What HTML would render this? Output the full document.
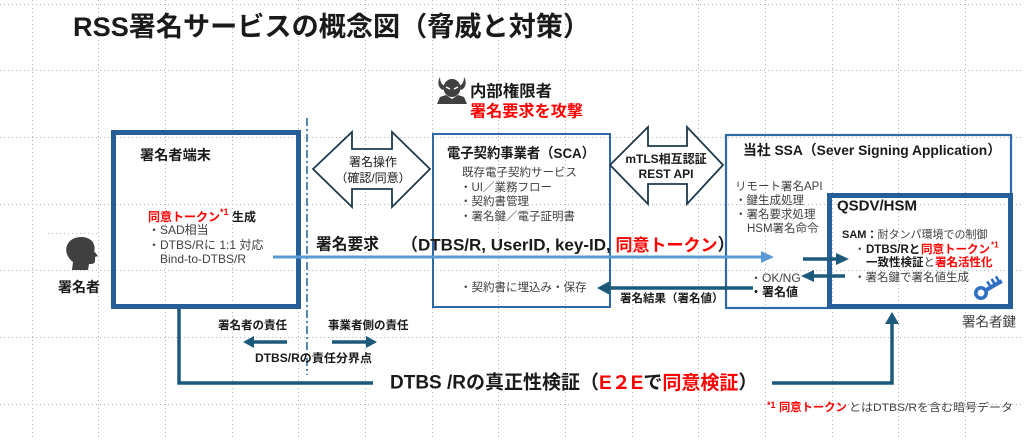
<!DOCTYPE html>
<html><head><meta charset="utf-8">
<style>
html,body{margin:0;padding:0;background:#fff;overflow:hidden;}
svg{display:block;}
text{font-family:"Liberation Sans","Noto Sans CJK JP",sans-serif;dominant-baseline:central;}
.b{font-weight:bold;}
.g{fill:#404040;}
.k{fill:#1a1a1a;}
.r{fill:#ff0000;font-weight:bold;}
</style></head>
<body>
<svg width="1024" height="440" viewBox="0 0 1024 440" xmlns="http://www.w3.org/2000/svg">
<!-- grid -->
<g stroke="#b4b4b4" stroke-width="1" stroke-dasharray="1 3" fill="none">
<line x1="32.5" y1="0" x2="32.5" y2="440"/><line x1="98.5" y1="0" x2="98.5" y2="440"/>
<line x1="165.5" y1="0" x2="165.5" y2="440"/><line x1="232.5" y1="0" x2="232.5" y2="440"/>
<line x1="298.5" y1="0" x2="298.5" y2="440"/><line x1="365.5" y1="0" x2="365.5" y2="440"/>
<line x1="432.5" y1="0" x2="432.5" y2="440"/><line x1="498.5" y1="0" x2="498.5" y2="440"/>
<line x1="565.5" y1="0" x2="565.5" y2="440"/><line x1="632.5" y1="0" x2="632.5" y2="440"/>
<line x1="698.5" y1="0" x2="698.5" y2="440"/><line x1="765.5" y1="0" x2="765.5" y2="440"/>
<line x1="832.5" y1="0" x2="832.5" y2="440"/><line x1="898.5" y1="0" x2="898.5" y2="440"/>
<line x1="965.5" y1="0" x2="965.5" y2="440"/>
<line x1="0" y1="4.5" x2="1024" y2="4.5"/><line x1="0" y1="70.5" x2="1024" y2="70.5"/>
<line x1="0" y1="137.5" x2="1024" y2="137.5"/><line x1="0" y1="204.5" x2="1024" y2="204.5"/>
<line x1="0" y1="270.5" x2="1024" y2="270.5"/><line x1="0" y1="337.5" x2="1024" y2="337.5"/>
<line x1="0" y1="404.5" x2="1024" y2="404.5"/>
<line x1="48" y1="233.5" x2="98" y2="233.5"/>
</g>

<!-- title -->
<text x="73" y="27" font-size="27" class="b k" textLength="517" lengthAdjust="spacingAndGlyphs">RSS署名サービスの概念図（脅威と対策）</text>

<!-- devil icon -->
<g fill="#404040">
<path d="M440 77 C437 82 438 88 443 90 L445 86 C442 85 440 82 440 77 Z"/>
<path d="M464 77 C467 82 466 88 461 90 L459 86 C462 85 464 82 464 77 Z"/>
<ellipse cx="452" cy="88" rx="8.5" ry="9"/>
<path d="M437 104 L440 97 L446 95 L452 99 L458 95 L464 97 L467 104 Z"/>
</g>
<path d="M446 87 L450 89 M458 87 L454 89" stroke="#fff" stroke-width="1.5"/>
<text x="470" y="92" font-size="16" class="b k" textLength="82" lengthAdjust="spacingAndGlyphs">内部権限者</text>
<text x="470" y="112" font-size="16" class="r" textLength="113" lengthAdjust="spacingAndGlyphs">署名要求を攻撃</text>

<!-- signer head -->
<path fill="#404040" d="M72 270 L73 262 C66 257 64 248 69 242 C74 236 86 235 92 241 C95 245 95 249 94 251 L98 256 L95 257 L95 261 C95 264 92 264 89 264 L88 270 Z"/>
<text x="58" y="287" font-size="14" class="b k" textLength="42" lengthAdjust="spacingAndGlyphs">署名者</text>

<!-- dash-dot boundary -->
<line x1="307" y1="118" x2="307" y2="375" stroke="#2e6aa8" stroke-width="1.6" stroke-dasharray="8 3 2 3"/>

<!-- signer terminal box -->
<rect x="113.5" y="132.5" width="185" height="174" fill="none" stroke="#255e98" stroke-width="5"/>
<text x="140" y="155" font-size="14" class="b k" textLength="71" lengthAdjust="spacingAndGlyphs">署名者端末</text>
<text x="148" y="217" font-size="12" class="r">同意トークン</text>
<text x="220" y="212" font-size="9" class="r">*1</text>
<text x="232" y="217" font-size="12" class="b k">生成</text>
<text x="148" y="230" font-size="12" class="g">・SAD相当</text>
<text x="148" y="245" font-size="12" class="g">・DTBS/Rに 1:1 対応</text>
<text x="160" y="259" font-size="12" class="g">Bind-to-DTBS/R</text>

<!-- double arrow 1 -->
<polygon points="313,169 352,132 352,149 392,149 392,132 430,169 392,207 392,189 352,189 352,207" fill="#fff" stroke="#1e3a4c" stroke-width="1.8" stroke-linejoin="miter"/>
<text x="373" y="162" font-size="12" class="k" text-anchor="middle">署名操作</text>
<text x="373" y="178" font-size="12" class="k" text-anchor="middle">（確認/同意）</text>

<!-- SCA box -->
<rect x="433" y="134" width="177" height="173" fill="none" stroke="#2e6aa8" stroke-width="2"/>
<text x="447" y="153" font-size="14" class="b k" textLength="148" lengthAdjust="spacingAndGlyphs">電子契約事業者（SCA）</text>
<text x="462" y="173" font-size="11.5" class="g">既存電子契約サービス</text>
<text x="460" y="188" font-size="11.5" class="g">・UI／業務フロー</text>
<text x="460" y="202" font-size="11.5" class="g">・契約書管理</text>
<text x="460" y="217" font-size="11.5" class="g">・署名鍵／電子証明書</text>
<text x="460" y="288" font-size="11.5" class="g">・契約書に埋込み・保存</text>

<!-- double arrow 2 -->
<polygon points="610,165 648,127 648,146 687,146 687,127 723,165 687,204 687,184 648,184 648,204" fill="#fff" stroke="#1e3a4c" stroke-width="1.8"/>
<text x="666" y="159" font-size="12" class="b k" text-anchor="middle">mTLS相互認証</text>
<text x="666" y="174" font-size="12" class="b k" text-anchor="middle">REST API</text>

<!-- SSA box -->
<rect x="726" y="135" width="285" height="173" fill="none" stroke="#2e6aa8" stroke-width="2.2"/>
<text x="743" y="150" font-size="14" class="b k" textLength="258" lengthAdjust="spacingAndGlyphs">当社 SSA（Sever Signing Application）</text>
<text x="735" y="187" font-size="11.5" class="g">リモート署名API</text>
<text x="735" y="201" font-size="11.5" class="g">・鍵生成処理</text>
<text x="735" y="215" font-size="11.5" class="g">・署名要求処理</text>
<text x="747" y="229" font-size="11.5" class="g">HSM署名命令</text>
<text x="750" y="278" font-size="12" class="g">・OK/NG</text>
<text x="750" y="292" font-size="12" class="b k">・署名値</text>

<!-- HSM box -->
<rect x="829.5" y="195.5" width="181" height="111" fill="none" stroke="#255e98" stroke-width="5"/>
<text x="837" y="206" font-size="15" class="b k">QSDV/HSM</text>
<text x="842" y="235" font-size="11"><tspan class="b k">SAM：</tspan><tspan class="g">耐タンパ環境での制御</tspan></text>
<text x="854" y="250" font-size="11.5" class="g">・</text>
<text x="866" y="250" font-size="11.5" class="b k">DTBS/Rと</text>
<text x="921" y="250" font-size="11.5" class="r">同意トークン</text>
<text x="991" y="245" font-size="8" class="r">*1</text>
<text x="866" y="263" font-size="11.5"><tspan class="b k">一致性検証</tspan><tspan class="g">と</tspan><tspan class="r">署名活性化</tspan></text>
<text x="854" y="278" font-size="11.5" class="g">・署名鍵で署名値生成</text>
<!-- key icon -->
<g transform="rotate(-30 981 293)" fill="#2f6fc4" stroke="none">
<circle cx="981" cy="293" r="5.2" fill="none" stroke="#2f6fc4" stroke-width="3.6"/>
<rect x="985" y="291" width="20" height="4"/>
<rect x="991" y="286" width="2.6" height="6"/>
<rect x="996" y="286" width="2.6" height="6"/>
<rect x="1001" y="286" width="2.6" height="6"/>
</g>
<text x="962" y="322" font-size="13.5" class="g">署名者鍵</text>

<!-- signing request -->
<text x="316" y="245" font-size="16" class="b k" textLength="63" lengthAdjust="spacingAndGlyphs">署名要求</text>
<text x="401" y="245" font-size="17" class="b k">（DTBS/R, UserID, key-ID, <tspan class="r">同意トークン</tspan>）</text>
<line x1="273" y1="257" x2="763" y2="257" stroke="#5b9bd5" stroke-width="3"/>
<polygon points="774,257 761,251 761,263" fill="#5b9bd5"/>

<!-- dark arrows -->
<g stroke="#1b5a7a" stroke-width="3.5" fill="none">
<line x1="803" y1="259" x2="838" y2="259"/>
<line x1="845" y1="276" x2="812" y2="276"/>
<line x1="753" y1="288" x2="608" y2="288"/>
<polyline points="179,309 179,383 373,383"/>
<polyline points="772,383 892,383 892,322"/>
<line x1="287" y1="342" x2="253" y2="342"/>
<line x1="332" y1="342" x2="367" y2="342"/>
</g>
<g fill="#1b5a7a">
<polygon points="849,259 836,253 836,265"/>
<polygon points="801,276 814,270 814,282"/>
<polygon points="597,288 610,281 610,295"/>
<polygon points="892,312 885,324 899,324"/>
<polygon points="243,342 254,336 254,348"/>
<polygon points="377,342 366,336 366,348"/>
</g>
<text x="620" y="299" font-size="11.5" class="b k">署名結果（署名値）</text>

<!-- responsibility labels -->
<text x="218" y="326" font-size="11.5" class="b k">署名者の責任</text>
<text x="328" y="326" font-size="11.5" class="b k">事業者側の責任</text>
<text x="255" y="359" font-size="11.5" class="b k" textLength="117" lengthAdjust="spacingAndGlyphs">DTBS/Rの責任分界点</text>

<!-- bottom verification text -->
<text x="390" y="383" font-size="19" class="b k">DTBS /Rの真正性検証（<tspan class="r">E２E</tspan>で<tspan class="r">同意検証</tspan>）</text>

<!-- footnote -->
<text x="767" y="405" font-size="9" class="r">*1</text>
<text x="779" y="408" font-size="11.3" class="r">同意トークン</text>
<text x="849" y="408" font-size="11" class="g" textLength="164" lengthAdjust="spacingAndGlyphs">とはDTBS/Rを含む暗号データ</text>
</svg>
</body></html>
